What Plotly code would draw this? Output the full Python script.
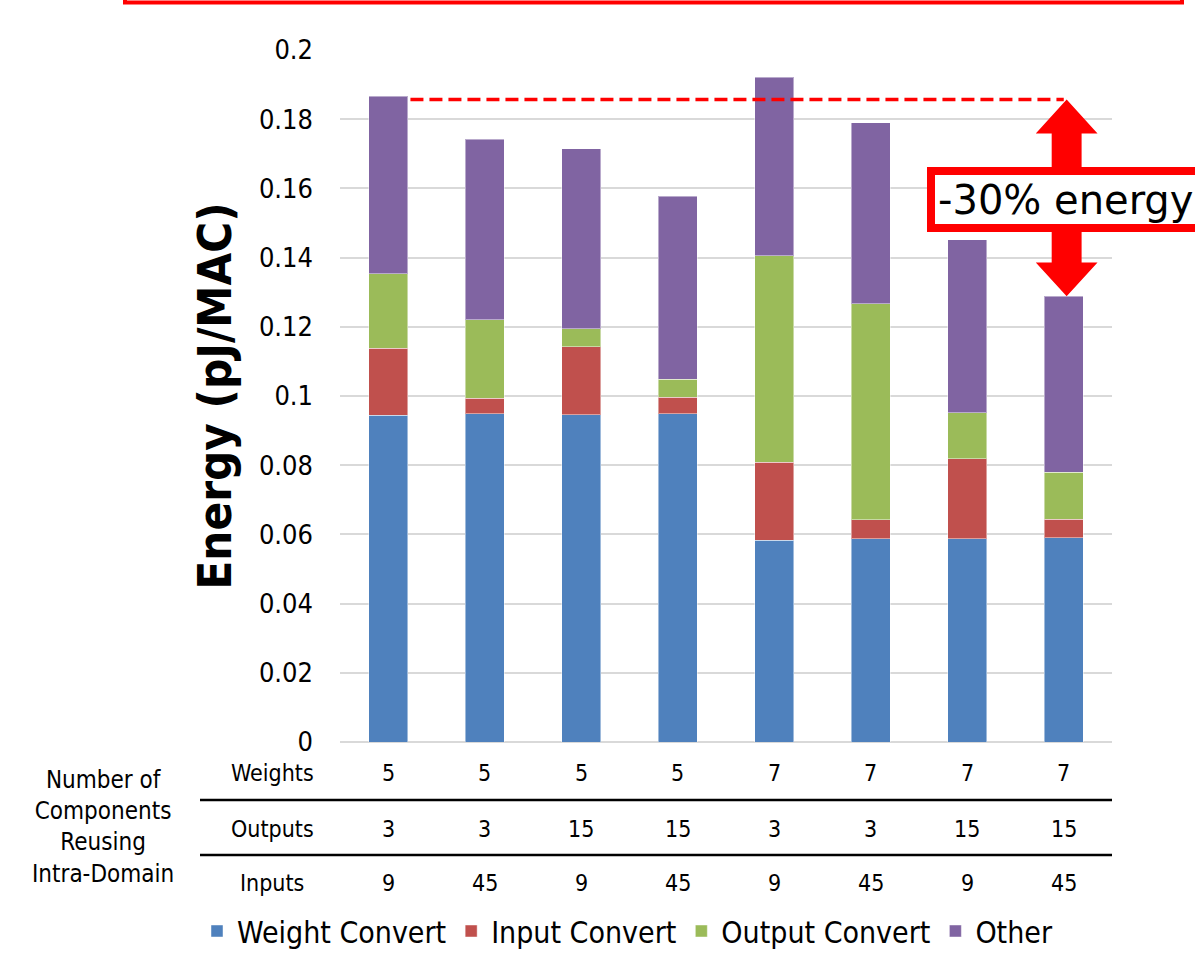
import plotly.graph_objects as go

configs = ["5/3/9", "5/3/45", "5/15/9", "5/15/45", "7/3/9", "7/3/45", "7/15/9", "7/15/45"]
weights_row = ["5", "5", "5", "5", "7", "7", "7", "7"]
outputs_row = ["3", "3", "15", "15", "3", "3", "15", "15"]
inputs_row = ["9", "45", "9", "45", "9", "45", "9", "45"]

weight_convert = [0.0944, 0.0948, 0.0946, 0.0948, 0.0583, 0.0587, 0.0587, 0.0590]
input_convert = [0.0194, 0.0046, 0.0197, 0.0049, 0.0226, 0.0055, 0.0232, 0.0054]
output_convert = [0.0215, 0.0226, 0.0051, 0.0052, 0.0596, 0.0624, 0.0132, 0.0135]
other = [0.0514, 0.0522, 0.0520, 0.0529, 0.0516, 0.0524, 0.0500, 0.0509]

series_names = ["Weight Convert", "Input Convert", "Output Convert", "Other"]
series_colors = ["#4F81BD", "#C0504D", "#9BBB59", "#8064A2"]
series_values = [weight_convert, input_convert, output_convert, other]

baseline_level = 0.1857
reduced_idx = 7

FONT = "DejaVu Sans Condensed"
W, H = 1195, 954
L, R, T, B = 340, 1112, 50, 742

def px(xp):
    return (xp - L) / (R - L)

def py(yp):
    return (B - yp) / (B - T)

xs = list(range(len(configs)))
fig = go.Figure()
for name, color, vals in zip(series_names, series_colors, series_values):
    fig.add_trace(go.Bar(
        x=xs, y=vals, name=name, width=0.4,
        marker=dict(color=color, line=dict(color="rgba(255,255,255,0.45)", width=1)),
    ))

shapes = []
annotations = []

# dashed baseline
shapes.append(dict(type="line", xref="x", yref="y", x0=0.23, x1=reduced_idx,
                   y0=baseline_level, y1=baseline_level,
                   line=dict(color="#FF0000", width=3.5, dash="13px,6px")))

# double-headed arrow
top_y = baseline_level
bot_y = sum(v[reduced_idx] for v in series_values)
cx = reduced_idx + 0.03
hw, sw, hl = 0.32, 0.155, 0.0098
path = (f"M {cx},{top_y} L {cx+hw},{top_y-hl} L {cx+sw},{top_y-hl} "
        f"L {cx+sw},{bot_y+hl} L {cx+hw},{bot_y+hl} L {cx},{bot_y} "
        f"L {cx-hw},{bot_y+hl} L {cx-sw},{bot_y+hl} L {cx-sw},{top_y-hl} "
        f"L {cx-hw},{top_y-hl} Z")
shapes.append(dict(type="path", xref="x", yref="y", path=path,
                   fillcolor="#FF0000", line=dict(width=0)))

# annotation box
shapes.append(dict(type="rect", xref="paper", yref="paper",
                   x0=px(931), x1=px(1230), y0=py(228), y1=py(171),
                   fillcolor="white", line=dict(color="#FF0000", width=8)))
annotations.append(dict(xref="paper", yref="paper", x=px(936), y=py(200),
                        xanchor="left", yanchor="middle", showarrow=False,
                        text="-30% energy",
                        font=dict(family="DejaVu Sans", size=40, color="black")))

# top red frame line
shapes.append(dict(type="rect", xref="paper", yref="paper",
                   x0=px(125), x1=px(1182), y0=py(-20), y1=py(2.5),
                   line=dict(color="#FF0000", width=4), fillcolor="rgba(0,0,0,0)"))

# table lines
for yl in (800, 855):
    shapes.append(dict(type="line", xref="paper", yref="paper",
                       x0=px(200), x1=px(1112), y0=py(yl), y1=py(yl),
                       line=dict(color="black", width=2.5)))

rows = [("Weights", weights_row, 773), ("Outputs", outputs_row, 829), ("Inputs", inputs_row, 883)]
for label, vals, yy in rows:
    annotations.append(dict(xref="paper", yref="paper", x=px(272), y=py(yy),
                            xanchor="center", yanchor="middle", showarrow=False,
                            text=label, font=dict(family=FONT, size=23, color="black")))
    for i, v in enumerate(vals):
        annotations.append(dict(xref="x", yref="paper", x=i, y=py(yy),
                                xanchor="center", yanchor="middle", showarrow=False,
                                text=v, font=dict(family=FONT, size=23, color="black")))

annotations.append(dict(xref="paper", yref="paper", x=px(103), y=py(827),
                        xanchor="center", yanchor="middle", showarrow=False,
                        text="Number of<br>Components<br>Reusing<br>Intra-Domain",
                        font=dict(family=FONT, size=24, color="black")))

fig.update_layout(
    width=W, height=H,
    margin=dict(l=L, r=W - R, t=T, b=H - B, autoexpand=False),
    plot_bgcolor="white", paper_bgcolor="white",
    barmode="stack", bargap=0.6,
    shapes=shapes, annotations=annotations,
    showlegend=True,
    legend=dict(orientation="h", x=px(197), y=py(905), xanchor="left", yanchor="top",
                font=dict(family=FONT, size=30, color="black"),
                itemwidth=30, tracegroupgap=0, traceorder="normal",
                bgcolor="rgba(0,0,0,0)"),
    xaxis=dict(range=[-0.5, 7.5], showticklabels=False, showgrid=False,
               zeroline=False, showline=False, ticks=""),
    yaxis=dict(range=[0, 0.2], tickvals=[0, 0.02, 0.04, 0.06, 0.08, 0.1, 0.12, 0.14, 0.16, 0.18, 0.2],
               ticktext=["0", "0.02", "0.04", "0.06", "0.08", "0.1", "0.12", "0.14", "0.16", "0.18", "0.2"],
               showgrid=True, gridcolor="#D9D9D9", gridwidth=2,
               zeroline=True, zerolinecolor="#D9D9D9", zerolinewidth=2,
               showline=False, ticks="", ticklabelstandoff=26,
               tickfont=dict(family=FONT, size=27, color="black"),
               title=dict(text="<b>Energy (pJ/MAC)</b>", standoff=12,
                          font=dict(family=FONT, size=47, color="black"))),
)

fig.write_html("out.html")
